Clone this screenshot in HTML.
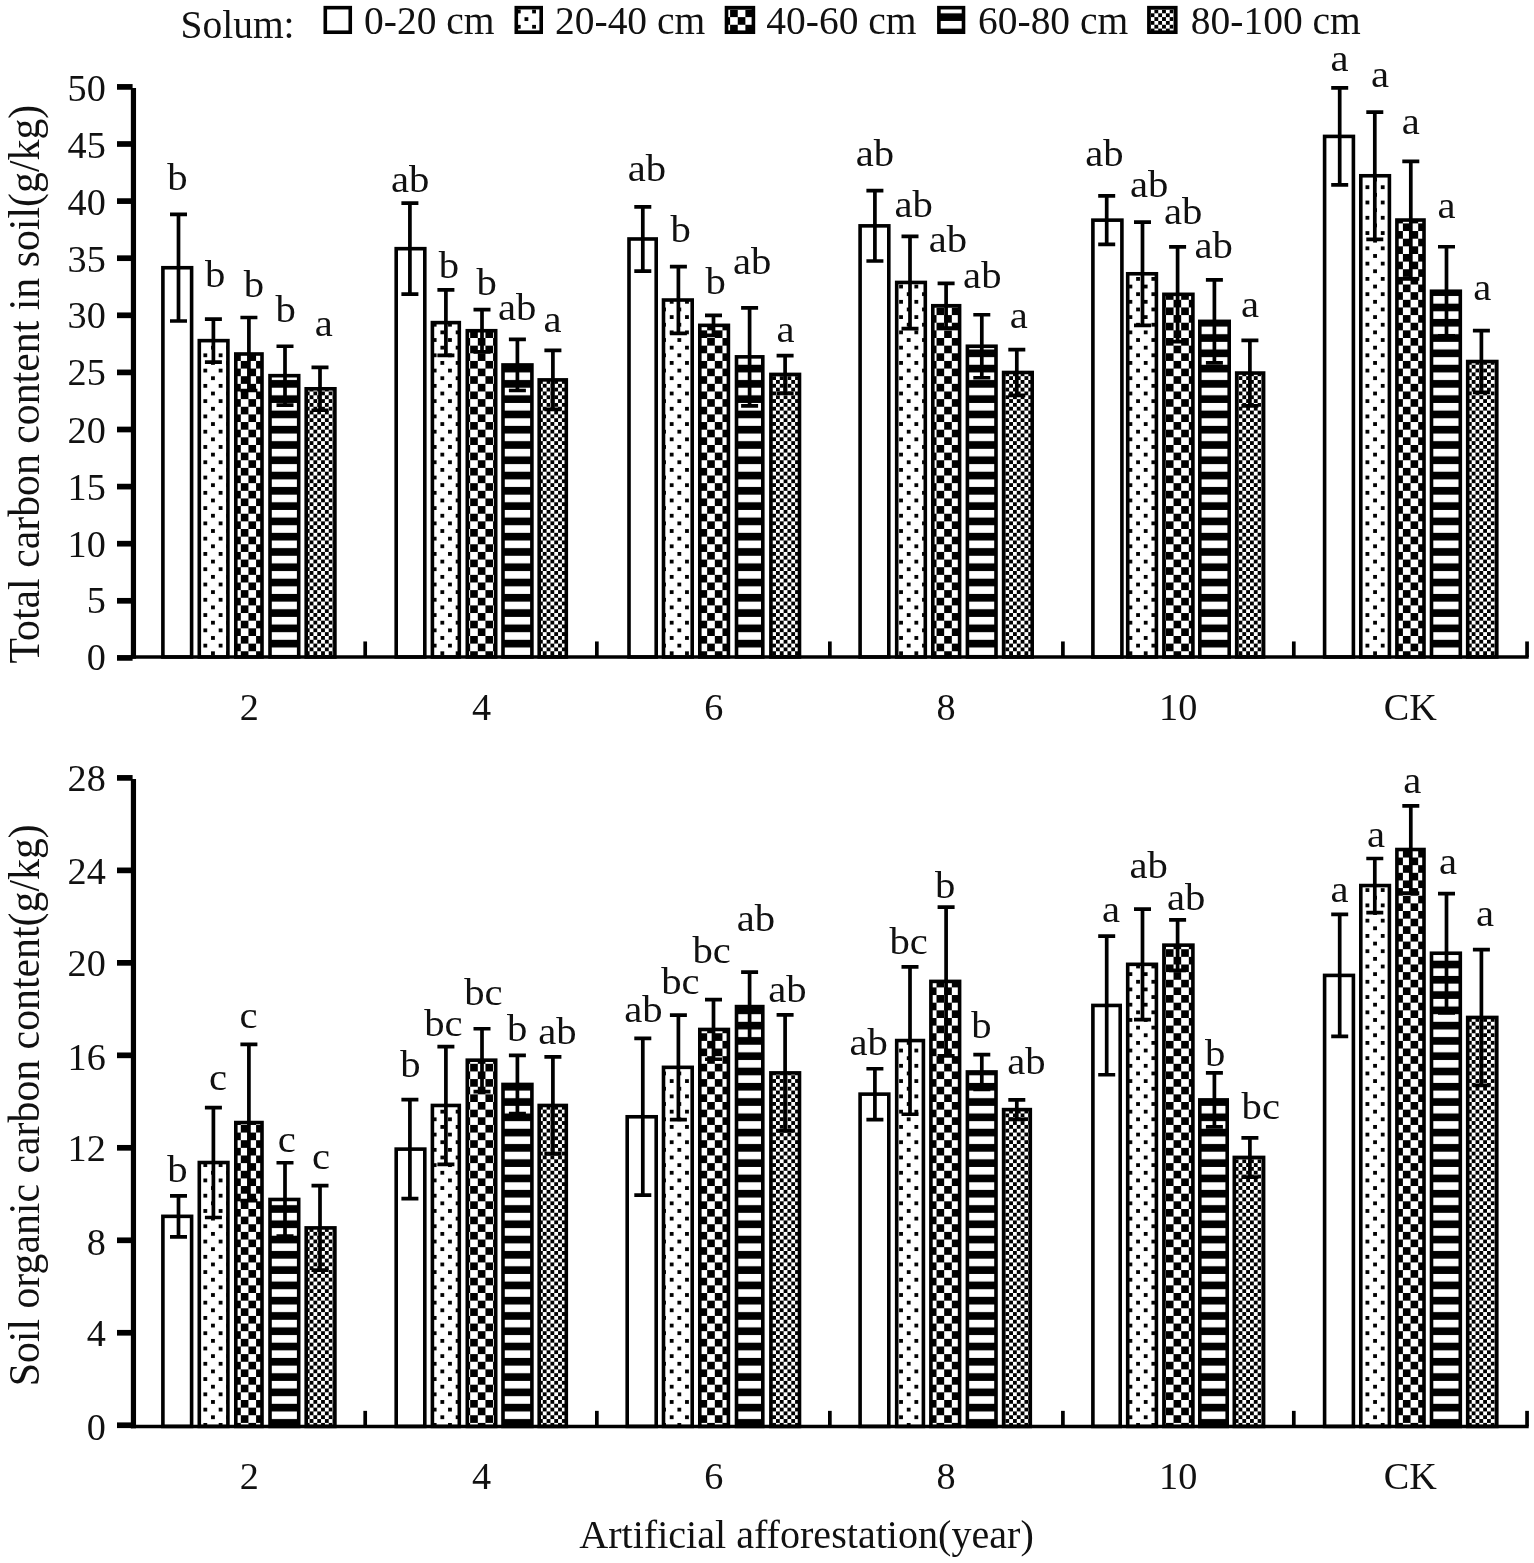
<!DOCTYPE html>
<html lang="en"><head><meta charset="utf-8"><title>Soil carbon content under artificial afforestation</title>
<style>
html,body{margin:0;padding:0;background:#fff;}
body{width:1534px;height:1563px;overflow:hidden;}
svg{display:block;}
text{font-family:"Liberation Serif","Times New Roman",Times,serif;fill:#111;}
.tick{font-size:38.2px;}
.lab{font-size:38.0px;text-anchor:middle;}
.leg{font-size:39.5px;}
.ttl{font-size:41.8px;text-anchor:middle;}
.xttl{font-size:40.1px;text-anchor:middle;}
.ax{stroke:#000;fill:none;}
.bar{stroke:#000;stroke-width:3.6;}
.err{stroke:#000;stroke-width:3.7;fill:none;}
</style></head><body>
<svg width="1534" height="1563" viewBox="0 0 1534 1563">
<rect x="0" y="0" width="1534" height="1563" fill="#fff"/>
<defs>
<pattern id="pDot" patternUnits="userSpaceOnUse" x="2.720" y="0.040" width="15.2908" height="15.28">
<rect width="15.2908" height="15.28" fill="#fff"/>
<rect x="1.90" y="1.90" width="3.8" height="3.8" fill="#000"/>
<rect x="9.55" y="9.54" width="3.8" height="3.8" fill="#000"/>
</pattern>
<pattern id="pChk" patternUnits="userSpaceOnUse" x="3.79" y="1.85" width="15.2908" height="15.28">
<rect width="15.2908" height="15.28" fill="#fff"/>
<rect x="0" y="0" width="7.645" height="7.640" fill="#000"/>
<rect x="7.645" y="7.640" width="7.645" height="7.640" fill="#000"/>
</pattern>
<pattern id="pHor" patternUnits="userSpaceOnUse" x="0" y="0" width="15.2908" height="15.28">
<rect width="15.2908" height="15.28" fill="#000"/>
<rect x="0" y="5.70" width="15.2908" height="7.6" fill="#fff"/>
</pattern>
<pattern id="pSm" patternUnits="userSpaceOnUse" x="3.79" y="1.85" width="7.6454" height="7.6400">
<rect width="7.6454" height="7.6400" fill="#fff"/>
<rect x="3.8227" y="0" width="3.8227" height="3.8200" fill="#000"/>
<rect x="0" y="3.8200" width="3.8227" height="3.8200" fill="#000"/>
</pattern>
</defs>
<g id="chart-total-carbon">
<rect class="bar" x="162.90" y="267.73" width="28.70" height="389.27" fill="#fff"/>
<rect class="bar" x="199.30" y="340.64" width="28.60" height="316.36" fill="url(#pDot)"/>
<rect class="bar" x="235.80" y="353.99" width="26.20" height="303.01" fill="url(#pChk)"/>
<rect class="bar" x="270.00" y="375.67" width="28.70" height="281.33" fill="url(#pHor)"/>
<rect class="bar" x="306.20" y="388.79" width="28.70" height="268.21" fill="url(#pSm)"/>
<rect class="bar" x="396.20" y="248.68" width="28.60" height="408.32" fill="#fff"/>
<rect class="bar" x="432.40" y="322.62" width="26.90" height="334.38" fill="url(#pDot)"/>
<rect class="bar" x="467.30" y="330.72" width="28.40" height="326.28" fill="url(#pChk)"/>
<rect class="bar" x="503.00" y="364.95" width="28.90" height="292.05" fill="url(#pHor)"/>
<rect class="bar" x="539.20" y="379.89" width="27.10" height="277.11" fill="url(#pSm)"/>
<rect class="bar" x="629.00" y="238.98" width="27.20" height="418.02" fill="#fff"/>
<rect class="bar" x="663.50" y="300.02" width="28.70" height="356.98" fill="url(#pDot)"/>
<rect class="bar" x="699.80" y="325.35" width="28.60" height="331.65" fill="url(#pChk)"/>
<rect class="bar" x="736.50" y="356.85" width="26.30" height="300.15" fill="url(#pHor)"/>
<rect class="bar" x="770.90" y="374.42" width="28.60" height="282.58" fill="url(#pSm)"/>
<rect class="bar" x="860.10" y="225.86" width="28.70" height="431.14" fill="#fff"/>
<rect class="bar" x="896.70" y="282.45" width="28.60" height="374.55" fill="url(#pDot)"/>
<rect class="bar" x="932.80" y="305.73" width="26.80" height="351.27" fill="url(#pChk)"/>
<rect class="bar" x="967.40" y="346.24" width="28.60" height="310.76" fill="url(#pHor)"/>
<rect class="bar" x="1003.60" y="372.48" width="28.60" height="284.52" fill="url(#pSm)"/>
<rect class="bar" x="1092.90" y="220.15" width="29.00" height="436.85" fill="#fff"/>
<rect class="bar" x="1127.70" y="273.78" width="28.70" height="383.22" fill="url(#pDot)"/>
<rect class="bar" x="1163.90" y="294.32" width="29.00" height="362.68" fill="url(#pChk)"/>
<rect class="bar" x="1199.80" y="321.36" width="29.40" height="335.64" fill="url(#pHor)"/>
<rect class="bar" x="1236.70" y="373.05" width="26.90" height="283.95" fill="url(#pSm)"/>
<rect class="bar" x="1324.60" y="136.41" width="28.80" height="520.59" fill="#fff"/>
<rect class="bar" x="1360.80" y="175.77" width="28.60" height="481.23" fill="url(#pDot)"/>
<rect class="bar" x="1396.90" y="220.04" width="27.10" height="436.96" fill="url(#pChk)"/>
<rect class="bar" x="1431.50" y="291.24" width="28.80" height="365.76" fill="url(#pHor)"/>
<rect class="bar" x="1467.70" y="361.52" width="29.10" height="295.48" fill="url(#pSm)"/>
<path class="err" d="M178.50 214.45V321.02M170.00 214.45H187.00M170.00 321.02H187.00"/>
<path class="err" d="M213.40 319.08V362.21M204.90 319.08H221.90M204.90 362.21H221.90"/>
<path class="err" d="M248.90 317.48V390.51M240.40 317.48H257.40M240.40 390.51H257.40"/>
<path class="err" d="M285.00 346.24V405.11M276.50 346.24H293.50M276.50 405.11H293.50"/>
<path class="err" d="M320.00 367.34V410.25M311.50 367.34H328.50M311.50 410.25H328.50"/>
<path class="err" d="M409.90 203.15V294.21M401.40 203.15H418.40M401.40 294.21H418.40"/>
<path class="err" d="M445.90 289.87V355.36M437.40 289.87H454.40M437.40 355.36H454.40"/>
<path class="err" d="M482.00 309.61V351.83M473.50 309.61H490.50M473.50 351.83H490.50"/>
<path class="err" d="M517.40 339.39V390.51M508.90 339.39H525.90M508.90 390.51H525.90"/>
<path class="err" d="M552.90 350.34V409.45M544.40 350.34H561.40M544.40 409.45H561.40"/>
<path class="err" d="M642.80 206.92V271.04M634.30 206.92H651.30M634.30 271.04H651.30"/>
<path class="err" d="M678.40 266.59V333.46M669.90 266.59H686.90M669.90 333.46H686.90"/>
<path class="err" d="M713.50 315.43V335.28M705.00 315.43H722.00M705.00 335.28H722.00"/>
<path class="err" d="M749.60 307.90V405.80M741.10 307.90H758.10M741.10 405.80H758.10"/>
<path class="err" d="M785.10 355.59V393.24M776.60 355.59H793.60M776.60 393.24H793.60"/>
<path class="err" d="M874.90 190.72V261.00M866.40 190.72H883.40M866.40 261.00H883.40"/>
<path class="err" d="M910.00 236.36V328.55M901.50 236.36H918.50M901.50 328.55H918.50"/>
<path class="err" d="M946.10 283.37V328.09M937.60 283.37H954.60M937.60 328.09H954.60"/>
<path class="err" d="M981.80 314.74V377.73M973.30 314.74H990.30M973.30 377.73H990.30"/>
<path class="err" d="M1016.80 349.66V395.30M1008.30 349.66H1025.30M1008.30 395.30H1025.30"/>
<path class="err" d="M1106.70 195.85V244.46M1098.20 195.85H1115.20M1098.20 244.46H1115.20"/>
<path class="err" d="M1142.50 222.21V325.35M1134.00 222.21H1151.00M1134.00 325.35H1151.00"/>
<path class="err" d="M1177.60 246.97V341.67M1169.10 246.97H1186.10M1169.10 341.67H1186.10"/>
<path class="err" d="M1214.40 279.83V362.89M1205.90 279.83H1222.90M1205.90 362.89H1222.90"/>
<path class="err" d="M1249.90 340.30V405.80M1241.40 340.30H1258.40M1241.40 405.80H1258.40"/>
<path class="err" d="M1339.70 87.91V184.90M1331.20 87.91H1348.20M1331.20 184.90H1348.20"/>
<path class="err" d="M1374.80 112.10V239.44M1366.30 112.10H1383.30M1366.30 239.44H1383.30"/>
<path class="err" d="M1410.80 161.28V278.80M1402.30 161.28H1419.30M1402.30 278.80H1419.30"/>
<path class="err" d="M1446.50 246.74V335.74M1438.00 246.74H1455.00M1438.00 335.74H1455.00"/>
<path class="err" d="M1481.40 330.72V392.33M1472.90 330.72H1489.90M1472.90 392.33H1489.90"/>
<path class="ax" stroke-width="5.2" d="M133.45 88.10V658.75"/>
<path class="ax" stroke-width="3.5" d="M130.80 657.00H1528.70"/>
<path class="ax" stroke-width="5.7" d="M117.00 657.90H132.60"/>
<text class="tick" text-anchor="end" transform="translate(105.80 669.70) scale(1.000 1.020)">0</text>
<path class="ax" stroke-width="5.7" d="M117.00 600.80H132.60"/>
<text class="tick" text-anchor="end" transform="translate(105.80 612.80) scale(1.000 1.020)">5</text>
<path class="ax" stroke-width="5.7" d="M117.00 543.70H132.60"/>
<text class="tick" text-anchor="end" transform="translate(105.80 556.90) scale(1.000 1.020)">10</text>
<path class="ax" stroke-width="5.7" d="M117.00 486.60H132.60"/>
<text class="tick" text-anchor="end" transform="translate(105.80 499.90) scale(1.000 1.020)">15</text>
<path class="ax" stroke-width="5.7" d="M117.00 429.50H132.60"/>
<text class="tick" text-anchor="end" transform="translate(105.80 442.50) scale(1.000 1.020)">20</text>
<path class="ax" stroke-width="5.7" d="M117.00 372.40H132.60"/>
<text class="tick" text-anchor="end" transform="translate(105.80 385.30) scale(1.000 1.020)">25</text>
<path class="ax" stroke-width="5.7" d="M117.00 315.30H132.60"/>
<text class="tick" text-anchor="end" transform="translate(105.80 328.30) scale(1.000 1.020)">30</text>
<path class="ax" stroke-width="5.7" d="M117.00 258.20H132.60"/>
<text class="tick" text-anchor="end" transform="translate(105.80 271.70) scale(1.000 1.020)">35</text>
<path class="ax" stroke-width="5.7" d="M117.00 201.10H132.60"/>
<text class="tick" text-anchor="end" transform="translate(105.80 215.45) scale(1.000 1.020)">40</text>
<path class="ax" stroke-width="5.7" d="M117.00 144.00H132.60"/>
<text class="tick" text-anchor="end" transform="translate(105.80 158.45) scale(1.000 1.020)">45</text>
<path class="ax" stroke-width="5.7" d="M117.00 86.90H132.60"/>
<text class="tick" text-anchor="end" transform="translate(105.80 101.25) scale(1.000 1.020)">50</text>
<path class="ax" stroke-width="3.7" d="M365.20 641.45V657.00"/>
<path class="ax" stroke-width="3.7" d="M596.85 641.45V657.00"/>
<path class="ax" stroke-width="3.7" d="M829.86 641.45V657.00"/>
<path class="ax" stroke-width="3.7" d="M1062.90 641.45V657.00"/>
<path class="ax" stroke-width="3.7" d="M1293.80 641.45V657.00"/>
<path class="ax" stroke-width="3.7" d="M1527.05 641.45V657.00"/>
<text class="tick" text-anchor="middle" transform="translate(249.31 720.00) scale(1.000 1.020)">2</text>
<text class="tick" text-anchor="middle" transform="translate(481.52 720.00) scale(1.000 1.020)">4</text>
<text class="tick" text-anchor="middle" transform="translate(713.74 720.00) scale(1.000 1.020)">6</text>
<text class="tick" text-anchor="middle" transform="translate(945.96 720.00) scale(1.000 1.020)">8</text>
<text class="tick" text-anchor="middle" transform="translate(1178.17 720.00) scale(1.000 1.020)">10</text>
<text class="tick" text-anchor="middle" transform="translate(1410.39 720.00) scale(1.000 1.020)">CK</text>
<text class="lab" transform="translate(177.30 189.50) scale(1.070 1.020)">b</text>
<text class="lab" transform="translate(215.10 287.00) scale(1.070 1.020)">b</text>
<text class="lab" transform="translate(253.80 297.00) scale(1.070 1.020)">b</text>
<text class="lab" transform="translate(285.70 322.00) scale(1.070 1.020)">b</text>
<text class="lab" transform="translate(323.70 335.50) scale(1.070 1.020)">a</text>
<text class="lab" transform="translate(410.20 192.00) scale(1.070 1.020)">ab</text>
<text class="lab" transform="translate(448.90 278.00) scale(1.070 1.020)">b</text>
<text class="lab" transform="translate(486.60 294.80) scale(1.070 1.020)">b</text>
<text class="lab" transform="translate(517.20 320.20) scale(1.070 1.020)">ab</text>
<text class="lab" transform="translate(552.40 332.20) scale(1.070 1.020)">a</text>
<text class="lab" transform="translate(646.90 181.10) scale(1.070 1.020)">ab</text>
<text class="lab" transform="translate(680.70 242.30) scale(1.070 1.020)">b</text>
<text class="lab" transform="translate(715.70 293.50) scale(1.070 1.020)">b</text>
<text class="lab" transform="translate(752.20 274.00) scale(1.070 1.020)">ab</text>
<text class="lab" transform="translate(785.40 341.70) scale(1.070 1.020)">a</text>
<text class="lab" transform="translate(874.90 166.20) scale(1.070 1.020)">ab</text>
<text class="lab" transform="translate(913.60 217.40) scale(1.070 1.020)">ab</text>
<text class="lab" transform="translate(948.00 251.60) scale(1.070 1.020)">ab</text>
<text class="lab" transform="translate(982.30 287.80) scale(1.070 1.020)">ab</text>
<text class="lab" transform="translate(1018.80 327.70) scale(1.070 1.020)">a</text>
<text class="lab" transform="translate(1104.40 166.20) scale(1.070 1.020)">ab</text>
<text class="lab" transform="translate(1149.20 197.40) scale(1.070 1.020)">ab</text>
<text class="lab" transform="translate(1183.10 223.50) scale(1.070 1.020)">ab</text>
<text class="lab" transform="translate(1213.70 258.00) scale(1.070 1.020)">ab</text>
<text class="lab" transform="translate(1250.10 317.20) scale(1.070 1.020)">a</text>
<text class="lab" transform="translate(1339.40 70.70) scale(1.070 1.020)">a</text>
<text class="lab" transform="translate(1380.00 87.40) scale(1.070 1.020)">a</text>
<text class="lab" transform="translate(1410.70 133.60) scale(1.070 1.020)">a</text>
<text class="lab" transform="translate(1446.40 217.80) scale(1.070 1.020)">a</text>
<text class="lab" transform="translate(1482.30 299.70) scale(1.070 1.020)">a</text>
</g>
<g id="chart-organic-carbon">
<rect class="bar" x="162.90" y="1216.34" width="28.70" height="210.06" fill="#fff"/>
<rect class="bar" x="199.30" y="1162.52" width="28.60" height="263.88" fill="url(#pDot)"/>
<rect class="bar" x="235.80" y="1122.55" width="26.20" height="303.85" fill="url(#pChk)"/>
<rect class="bar" x="270.00" y="1199.47" width="28.70" height="226.93" fill="url(#pHor)"/>
<rect class="bar" x="306.20" y="1227.89" width="28.70" height="198.51" fill="url(#pSm)"/>
<rect class="bar" x="396.20" y="1149.12" width="28.60" height="277.28" fill="#fff"/>
<rect class="bar" x="432.40" y="1105.46" width="26.90" height="320.94" fill="url(#pDot)"/>
<rect class="bar" x="467.30" y="1060.18" width="28.40" height="366.22" fill="url(#pChk)"/>
<rect class="bar" x="503.00" y="1084.44" width="28.90" height="341.96" fill="url(#pHor)"/>
<rect class="bar" x="539.20" y="1105.46" width="27.10" height="320.94" fill="url(#pSm)"/>
<rect class="bar" x="627.20" y="1116.78" width="29.00" height="309.62" fill="#fff"/>
<rect class="bar" x="663.50" y="1067.34" width="28.70" height="359.06" fill="url(#pDot)"/>
<rect class="bar" x="699.80" y="1029.46" width="28.60" height="396.94" fill="url(#pChk)"/>
<rect class="bar" x="736.50" y="1006.59" width="26.30" height="419.81" fill="url(#pHor)"/>
<rect class="bar" x="770.90" y="1072.89" width="28.60" height="353.51" fill="url(#pSm)"/>
<rect class="bar" x="860.10" y="1094.14" width="28.70" height="332.26" fill="#fff"/>
<rect class="bar" x="896.70" y="1040.55" width="26.70" height="385.85" fill="url(#pDot)"/>
<rect class="bar" x="930.90" y="981.41" width="28.70" height="444.99" fill="url(#pChk)"/>
<rect class="bar" x="967.40" y="1071.96" width="28.60" height="354.44" fill="url(#pHor)"/>
<rect class="bar" x="1003.60" y="1109.62" width="26.70" height="316.78" fill="url(#pSm)"/>
<rect class="bar" x="1092.90" y="1005.44" width="27.30" height="420.97" fill="#fff"/>
<rect class="bar" x="1127.70" y="964.32" width="28.70" height="462.08" fill="url(#pDot)"/>
<rect class="bar" x="1163.90" y="945.14" width="29.00" height="481.26" fill="url(#pChk)"/>
<rect class="bar" x="1199.80" y="1099.91" width="27.40" height="326.49" fill="url(#pHor)"/>
<rect class="bar" x="1234.30" y="1157.43" width="29.30" height="268.97" fill="url(#pSm)"/>
<rect class="bar" x="1324.60" y="975.40" width="28.80" height="451.00" fill="#fff"/>
<rect class="bar" x="1360.80" y="885.55" width="28.60" height="540.85" fill="url(#pDot)"/>
<rect class="bar" x="1396.90" y="849.51" width="27.10" height="576.89" fill="url(#pChk)"/>
<rect class="bar" x="1431.50" y="953.23" width="28.80" height="473.17" fill="url(#pHor)"/>
<rect class="bar" x="1467.70" y="1017.45" width="29.10" height="408.95" fill="url(#pSm)"/>
<path class="err" d="M178.50 1195.78V1236.90M170.00 1195.78H187.00M170.00 1236.90H187.00"/>
<path class="err" d="M213.40 1107.54V1217.49M204.90 1107.54H221.90M204.90 1217.49H221.90"/>
<path class="err" d="M248.90 1044.47V1200.63M240.40 1044.47H257.40M240.40 1200.63H257.40"/>
<path class="err" d="M285.00 1162.75V1236.20M276.50 1162.75H293.50M276.50 1236.20H293.50"/>
<path class="err" d="M320.00 1185.62V1270.16M311.50 1185.62H328.50M311.50 1270.16H328.50"/>
<path class="err" d="M409.90 1099.57V1198.67M401.40 1099.57H418.40M401.40 1198.67H418.40"/>
<path class="err" d="M445.90 1046.55V1164.36M437.40 1046.55H454.40M437.40 1164.36H454.40"/>
<path class="err" d="M482.00 1028.77V1091.60M473.50 1028.77H490.50M473.50 1091.60H490.50"/>
<path class="err" d="M517.40 1055.33V1113.54M508.90 1055.33H525.90M508.90 1113.54H525.90"/>
<path class="err" d="M552.90 1056.95V1153.97M544.40 1056.95H561.40M544.40 1153.97H561.40"/>
<path class="err" d="M642.80 1038.47V1195.09M634.30 1038.47H651.30M634.30 1195.09H651.30"/>
<path class="err" d="M678.40 1015.14V1119.55M669.90 1015.14H686.90M669.90 1119.55H686.90"/>
<path class="err" d="M713.50 999.66V1059.26M705.00 999.66H722.00M705.00 1059.26H722.00"/>
<path class="err" d="M749.60 972.17V1041.01M741.10 972.17H758.10M741.10 1041.01H758.10"/>
<path class="err" d="M785.10 1014.91V1130.87M776.60 1014.91H793.60M776.60 1130.87H793.60"/>
<path class="err" d="M874.90 1068.73V1119.55M866.40 1068.73H883.40M866.40 1119.55H883.40"/>
<path class="err" d="M910.00 966.86V1114.24M901.50 966.86H918.50M901.50 1114.24H918.50"/>
<path class="err" d="M946.10 907.03V1055.79M937.60 907.03H954.60M937.60 1055.79H954.60"/>
<path class="err" d="M981.80 1054.64V1089.29M973.30 1054.64H990.30M973.30 1089.29H990.30"/>
<path class="err" d="M1016.80 1099.91V1119.32M1008.30 1099.91H1025.30M1008.30 1119.32H1025.30"/>
<path class="err" d="M1106.70 936.13V1074.74M1098.20 936.13H1115.20M1098.20 1074.74H1115.20"/>
<path class="err" d="M1142.50 909.11V1019.53M1134.00 909.11H1151.00M1134.00 1019.53H1151.00"/>
<path class="err" d="M1177.60 919.97V970.32M1169.10 919.97H1186.10M1169.10 970.32H1186.10"/>
<path class="err" d="M1214.40 1072.89V1126.94M1205.90 1072.89H1222.90M1205.90 1126.94H1222.90"/>
<path class="err" d="M1249.90 1137.80V1177.07M1241.40 1137.80H1258.40M1241.40 1177.07H1258.40"/>
<path class="err" d="M1339.70 914.42V1036.39M1331.20 914.42H1348.20M1331.20 1036.39H1348.20"/>
<path class="err" d="M1374.80 858.52V912.57M1366.30 858.52H1383.30M1366.30 912.57H1383.30"/>
<path class="err" d="M1410.80 805.85V893.17M1402.30 805.85H1419.30M1402.30 893.17H1419.30"/>
<path class="err" d="M1446.50 893.63V1012.83M1438.00 893.63H1455.00M1438.00 1012.83H1455.00"/>
<path class="err" d="M1481.40 949.53V1085.36M1472.90 949.53H1489.90M1472.90 1085.36H1489.90"/>
<path class="ax" stroke-width="5.2" d="M133.45 779.09V1428.15"/>
<path class="ax" stroke-width="3.5" d="M130.80 1426.40H1528.70"/>
<path class="ax" stroke-width="5.7" d="M117.00 1425.25H132.60"/>
<text class="tick" text-anchor="end" transform="translate(105.80 1439.60) scale(1.000 1.020)">0</text>
<path class="ax" stroke-width="5.7" d="M117.00 1332.77H132.60"/>
<text class="tick" text-anchor="end" transform="translate(105.80 1345.90) scale(1.000 1.020)">4</text>
<path class="ax" stroke-width="5.7" d="M117.00 1240.29H132.60"/>
<text class="tick" text-anchor="end" transform="translate(105.80 1254.60) scale(1.000 1.020)">8</text>
<path class="ax" stroke-width="5.7" d="M117.00 1147.81H132.60"/>
<text class="tick" text-anchor="end" transform="translate(105.80 1161.10) scale(1.000 1.020)">12</text>
<path class="ax" stroke-width="5.7" d="M117.00 1055.33H132.60"/>
<text class="tick" text-anchor="end" transform="translate(105.80 1069.50) scale(1.000 1.020)">16</text>
<path class="ax" stroke-width="5.7" d="M117.00 962.85H132.60"/>
<text class="tick" text-anchor="end" transform="translate(105.80 976.00) scale(1.000 1.020)">20</text>
<path class="ax" stroke-width="5.7" d="M117.00 870.37H132.60"/>
<text class="tick" text-anchor="end" transform="translate(105.80 883.80) scale(1.000 1.020)">24</text>
<path class="ax" stroke-width="5.7" d="M117.00 777.89H132.60"/>
<text class="tick" text-anchor="end" transform="translate(105.80 790.50) scale(1.000 1.020)">28</text>
<path class="ax" stroke-width="3.7" d="M365.20 1410.85V1426.40"/>
<path class="ax" stroke-width="3.7" d="M596.85 1410.85V1426.40"/>
<path class="ax" stroke-width="3.7" d="M829.86 1410.85V1426.40"/>
<path class="ax" stroke-width="3.7" d="M1062.90 1410.85V1426.40"/>
<path class="ax" stroke-width="3.7" d="M1293.80 1410.85V1426.40"/>
<path class="ax" stroke-width="3.7" d="M1527.05 1410.85V1426.40"/>
<text class="tick" text-anchor="middle" transform="translate(249.31 1488.80) scale(1.000 1.020)">2</text>
<text class="tick" text-anchor="middle" transform="translate(481.52 1488.80) scale(1.000 1.020)">4</text>
<text class="tick" text-anchor="middle" transform="translate(713.74 1488.80) scale(1.000 1.020)">6</text>
<text class="tick" text-anchor="middle" transform="translate(945.96 1488.80) scale(1.000 1.020)">8</text>
<text class="tick" text-anchor="middle" transform="translate(1178.17 1488.80) scale(1.000 1.020)">10</text>
<text class="tick" text-anchor="middle" transform="translate(1410.39 1488.80) scale(1.000 1.020)">CK</text>
<text class="lab" transform="translate(177.30 1182.20) scale(1.070 1.020)">b</text>
<text class="lab" transform="translate(218.00 1089.80) scale(1.070 1.020)">c</text>
<text class="lab" transform="translate(248.50 1027.90) scale(1.070 1.020)">c</text>
<text class="lab" transform="translate(286.70 1152.30) scale(1.070 1.020)">c</text>
<text class="lab" transform="translate(320.90 1169.20) scale(1.070 1.020)">c</text>
<text class="lab" transform="translate(410.30 1077.40) scale(1.070 1.020)">b</text>
<text class="lab" transform="translate(443.40 1036.20) scale(1.070 1.020)">bc</text>
<text class="lab" transform="translate(483.40 1005.00) scale(1.070 1.020)">bc</text>
<text class="lab" transform="translate(517.10 1041.00) scale(1.070 1.020)">b</text>
<text class="lab" transform="translate(557.40 1043.50) scale(1.070 1.020)">ab</text>
<text class="lab" transform="translate(643.50 1022.30) scale(1.070 1.020)">ab</text>
<text class="lab" transform="translate(680.40 993.60) scale(1.070 1.020)">bc</text>
<text class="lab" transform="translate(711.60 962.90) scale(1.070 1.020)">bc</text>
<text class="lab" transform="translate(755.90 931.20) scale(1.070 1.020)">ab</text>
<text class="lab" transform="translate(787.50 1001.60) scale(1.070 1.020)">ab</text>
<text class="lab" transform="translate(868.70 1055.20) scale(1.070 1.020)">ab</text>
<text class="lab" transform="translate(908.70 953.60) scale(1.070 1.020)">bc</text>
<text class="lab" transform="translate(945.20 897.90) scale(1.070 1.020)">b</text>
<text class="lab" transform="translate(981.30 1037.80) scale(1.070 1.020)">b</text>
<text class="lab" transform="translate(1026.40 1074.00) scale(1.070 1.020)">ab</text>
<text class="lab" transform="translate(1110.90 922.40) scale(1.070 1.020)">a</text>
<text class="lab" transform="translate(1148.70 877.50) scale(1.070 1.020)">ab</text>
<text class="lab" transform="translate(1186.20 910.30) scale(1.070 1.020)">ab</text>
<text class="lab" transform="translate(1215.20 1065.90) scale(1.070 1.020)">b</text>
<text class="lab" transform="translate(1260.80 1119.20) scale(1.070 1.020)">bc</text>
<text class="lab" transform="translate(1339.40 902.30) scale(1.070 1.020)">a</text>
<text class="lab" transform="translate(1376.00 847.40) scale(1.070 1.020)">a</text>
<text class="lab" transform="translate(1412.20 792.50) scale(1.070 1.020)">a</text>
<text class="lab" transform="translate(1447.90 874.40) scale(1.070 1.020)">a</text>
<text class="lab" transform="translate(1485.00 926.00) scale(1.070 1.020)">a</text>
</g>
<g id="legend">
<text class="leg" transform="translate(180.50 38.00) scale(1.000 1.040)">Solum:</text>
<rect class="bar" style="stroke-width:3.6" x="325.30" y="7.67" width="24.95" height="24.55" fill="#fff"/>
<text class="leg" transform="translate(364.00 34.00) scale(1.000 1.040)">0-20 cm</text>
<rect class="bar" style="stroke-width:3.6" x="516.30" y="7.67" width="24.90" height="24.55" fill="url(#pDot)"/>
<text class="leg" transform="translate(555.00 34.00) scale(1.000 1.040)">20-40 cm</text>
<rect class="bar" style="stroke-width:3.6" x="726.50" y="7.67" width="26.90" height="24.55" fill="url(#pChk)"/>
<text class="leg" transform="translate(766.30 34.00) scale(1.000 1.040)">40-60 cm</text>
<rect class="bar" style="stroke-width:3.6" x="938.90" y="7.67" width="24.60" height="24.55" fill="url(#pHor)"/>
<text class="leg" transform="translate(978.00 34.00) scale(1.000 1.040)">60-80 cm</text>
<rect class="bar" style="stroke-width:3.6" x="1148.90" y="7.67" width="26.90" height="24.55" fill="url(#pSm)"/>
<text class="leg" transform="translate(1190.80 34.00) scale(1.000 1.040)">80-100 cm</text>
</g>
<text class="ttl" transform="translate(38.50 384.20) rotate(-90) scale(1.000 1.060)">Total carbon content in soil(g/kg)</text>
<text class="ttl" transform="translate(38.50 1105.30) rotate(-90) scale(1.000 1.060)">Soil organic carbon content(g/kg)</text>
<text class="xttl" transform="translate(806.50 1548.30) scale(1.000 0.990)">Artificial afforestation(year)</text>
</svg></body></html>
